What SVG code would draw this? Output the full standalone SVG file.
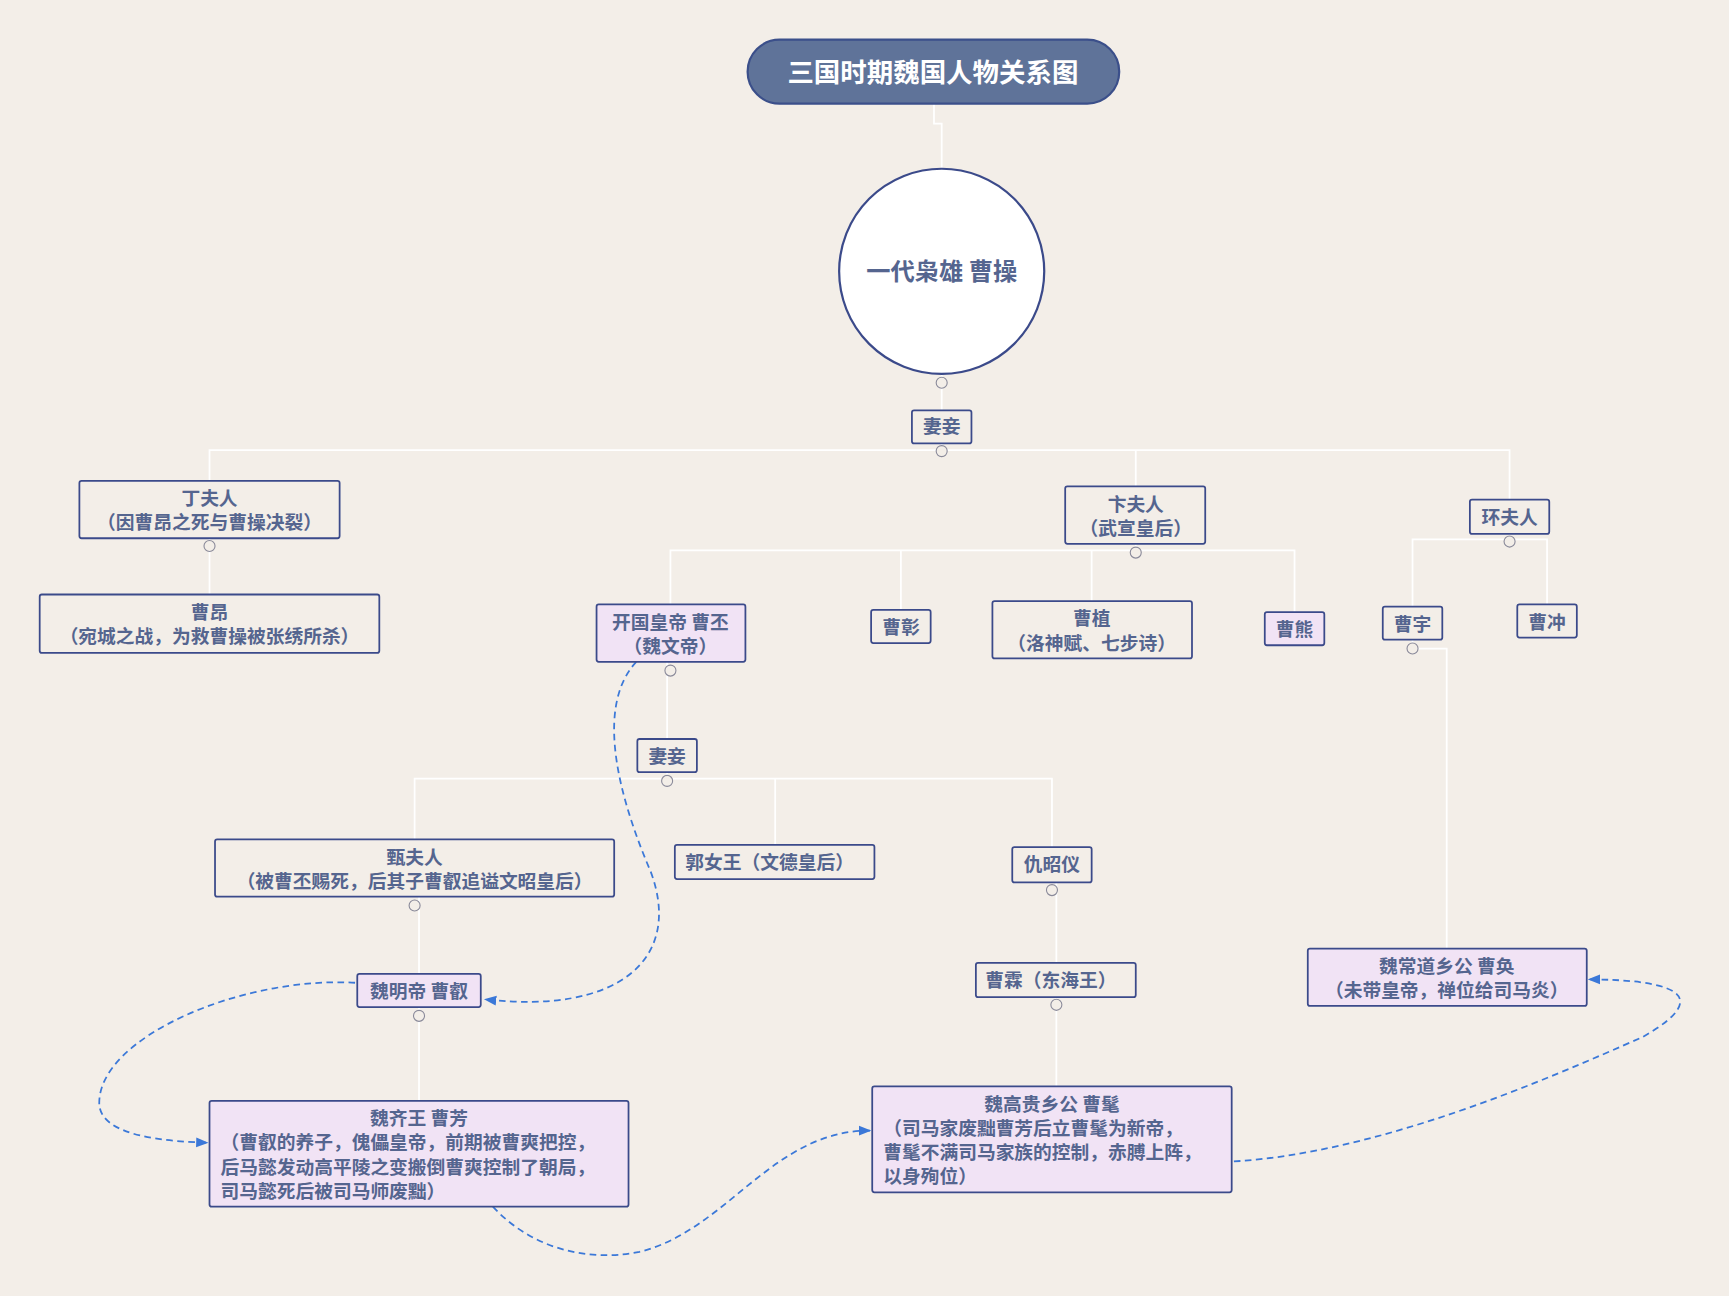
<svg xmlns="http://www.w3.org/2000/svg" width="1729" height="1296" viewBox="0 0 1729 1296">
<defs>
<style>
.n{fill:#f3eee8;stroke:#3b4a8a;stroke-width:1.6}
.p{fill:#f1e3f5;stroke:#3b4a8a;stroke-width:1.6}
.t{font-family:"Noto Sans CJK SC","Noto Sans",sans-serif;font-size:17px;font-weight:bold;fill:#55658f;text-anchor:middle}
.l{text-anchor:start}
.c{fill:#f3eee8;stroke:#8a8a9a;stroke-width:1}
.w{fill:none;stroke:#ffffff;stroke-width:1.6}
.d{fill:none;stroke:#3b78d8;stroke-width:1.6;stroke-dasharray:6,4;marker-end:url(#a)}
</style>
<marker id="a" viewBox="0 0 10 10" refX="9" refY="5" markerWidth="7" markerHeight="7" orient="auto"><path d="M0,1 L10,5 L0,9 z" fill="#3b78d8"/></marker>
</defs>
<rect width="1729" height="1296" fill="#f3eee8"/>
<g transform="scale(1.10268,1.10298)">
<g id="connectors">
<path class="w" d="M847,94 V112 H854 V153"/>
<path class="w" d="M854,339 V372 M854,402 V408 M190,436 V408 H1369 V453 M1030,408 V441"/>
<path class="w" d="M190,488 V539"/>
<path class="w" d="M1030,493 V499 M608,548 V499 H1174 V555 M817,499 V553 M990,499 V545"/>
<path class="w" d="M1369,484 V489 M1281,550 V489 H1403 V548"/>
<path class="w" d="M1281,580 V588 H1312 V860"/>
<path class="w" d="M605,600 V670 M605,700 V706 M376,761 V706 H954 V768 M703,706 V766"/>
<path class="w" d="M380,813 V883 M380,913 V998"/>
<path class="w" d="M958,800 V873 M958,904 V985"/>
<path class="d" d="M577,600 C540,640 560,720 590,790 C620,870 560,920 440,906"/>
<path class="d" d="M322,891 C220,885 90,940 90,1000 C90,1030 150,1035 188,1036"/>
<path class="d" d="M447,1094 C480,1130 530,1145 580,1135 C660,1115 700,1025 789,1025"/>
<path class="d" d="M1119,1053 C1250,1045 1400,980 1490,940 C1560,900 1510,888 1441,888"/>
</g>
<g id="title"><rect x="678" y="36" width="337" height="58" rx="29" fill="#5f7399" stroke="#3b4f8a" stroke-width="2"/><text x="846" y="74" class="t" style="fill:#fff;font-size:24px">三国时期魏国人物关系图</text></g>
<g id="caocao"><circle cx="854" cy="246" r="93" fill="#fff" stroke="#3b4a8a" stroke-width="2"/><text x="854" y="254" class="t" style="font-size:22px">一代枭雄 曹操</text></g>
<g id="qq1"><rect class="n" x="827" y="372" width="54" height="30" rx="2"/><text class="t" x="854" y="393">妻妾</text></g>
<g id="ding"><rect class="n" x="72" y="436" width="236" height="52" rx="2"/><text class="t" x="190" y="458">丁夫人</text><text class="t" x="190" y="480">（因曹昂之死与曹操决裂）</text></g>
<g id="caoang"><rect class="n" x="36" y="539" width="308" height="53" rx="2"/><text class="t" x="190" y="561">曹昂</text><text class="t" x="190" y="583">（宛城之战，为救曹操被张绣所杀）</text></g>
<g id="bian"><rect class="n" x="966" y="441" width="127" height="52" rx="2"/><text class="t" x="1030" y="463">卞夫人</text><text class="t" x="1030" y="485">（武宣皇后）</text></g>
<g id="huan"><rect class="n" x="1333" y="453" width="72" height="31" rx="2"/><text class="t" x="1369" y="475">环夫人</text></g>
<g id="caopi"><rect class="p" x="541" y="548" width="135" height="52" rx="2"/><text class="t" x="608" y="570">开国皇帝 曹丕</text><text class="t" x="608" y="592">（魏文帝）</text></g>
<g id="caozhang"><rect class="n" x="790" y="553" width="54" height="30" rx="2"/><text class="t" x="817" y="575">曹彰</text></g>
<g id="caozhi"><rect class="n" x="900" y="545" width="181" height="52" rx="2"/><text class="t" x="990" y="567">曹植</text><text class="t" x="990" y="589">（洛神赋、七步诗）</text></g>
<g id="caoxiong"><rect class="p" x="1147" y="555" width="54" height="30" rx="2"/><text class="t" x="1174" y="577">曹熊</text></g>
<g id="caoyu"><rect class="n" x="1254" y="550" width="54" height="30" rx="2"/><text class="t" x="1281" y="572">曹宇</text></g>
<g id="caochong"><rect class="n" x="1376" y="548" width="54" height="30" rx="2"/><text class="t" x="1403" y="570">曹冲</text></g>
<g id="caohuan"><rect class="p" x="1186" y="860" width="253" height="52" rx="2"/><text class="t" x="1312" y="882">魏常道乡公 曹奂</text><text class="t" x="1312" y="904">（未带皇帝，禅位给司马炎）</text></g>
<g id="qq2"><rect class="n" x="578" y="670" width="54" height="30" rx="2"/><text class="t" x="605" y="692">妻妾</text></g>
<g id="zhen"><rect class="n" x="195" y="761" width="362" height="52" rx="2"/><text class="t" x="376" y="783">甄夫人</text><text class="t" x="376" y="805">（被曹丕赐死，后其子曹叡追谥文昭皇后）</text></g>
<g id="guo"><rect class="n" x="612" y="766" width="181" height="31" rx="2"/><text class="t" x="698" y="788">郭女王（文德皇后）</text></g>
<g id="chou"><rect class="n" x="918" y="768" width="72" height="32" rx="2"/><text class="t" x="954" y="790">仇昭仪</text></g>
<g id="caorui"><rect class="p" x="324" y="883" width="112" height="30" rx="2"/><text class="t" x="380" y="905">魏明帝 曹叡</text></g>
<g id="caolin"><rect class="n" x="885" y="873" width="145" height="31" rx="2"/><text class="t" x="953" y="895">曹霖（东海王）</text></g>
<g id="caofang"><rect class="p" x="190" y="998" width="380" height="96" rx="2"/><text class="t" x="380" y="1020">魏齐王 曹芳</text><text class="t l" x="200" y="1042">（曹叡的养子，傀儡皇帝，前期被曹爽把控，</text><text class="t l" x="200" y="1064">后马懿发动高平陵之变搬倒曹爽控制了朝局，</text><text class="t l" x="200" y="1086">司马懿死后被司马师废黜）</text></g>
<g id="caomao"><rect class="p" x="791" y="985" width="326" height="96" rx="2"/><text class="t" x="954" y="1007">魏高贵乡公 曹髦</text><text class="t l" x="801" y="1029">（司马家废黜曹芳后立曹髦为新帝，</text><text class="t l" x="801" y="1051">曹髦不满司马家族的控制，赤膊上阵，</text><text class="t l" x="801" y="1073">以身殉位）</text></g>
<g id="collapse">
<circle class="c" cx="854" cy="347" r="5"/><circle class="c" cx="854" cy="409" r="5"/><circle class="c" cx="190" cy="495" r="5"/><circle class="c" cx="1030" cy="501" r="5"/><circle class="c" cx="1369" cy="491" r="5"/><circle class="c" cx="1281" cy="588" r="5"/><circle class="c" cx="608" cy="608" r="5"/><circle class="c" cx="605" cy="708" r="5"/><circle class="c" cx="376" cy="821" r="5"/><circle class="c" cx="954" cy="807" r="5"/><circle class="c" cx="380" cy="921" r="5"/><circle class="c" cx="958" cy="911" r="5"/>
</g>
</g>
</svg>
